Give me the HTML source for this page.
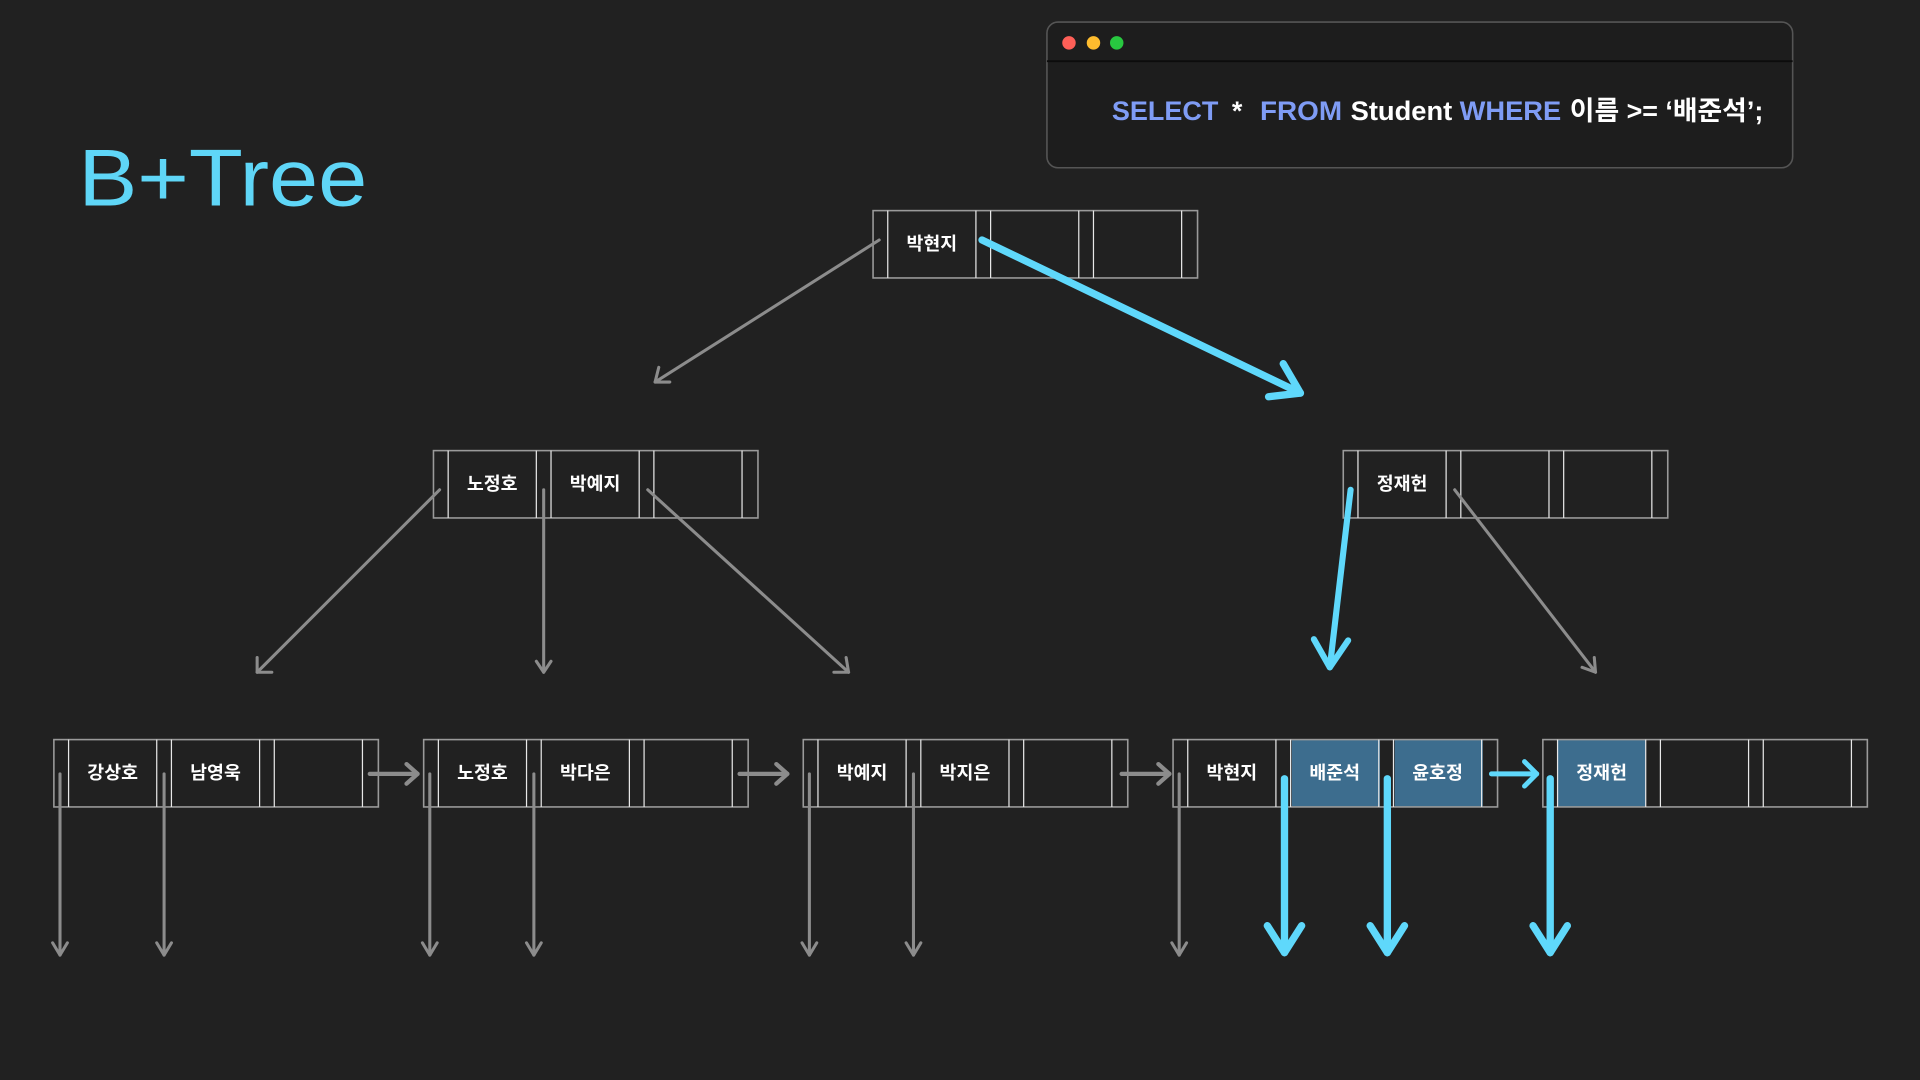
<!DOCTYPE html>
<html><head><meta charset="utf-8"><style>
html,body{margin:0;padding:0;background:#212121;width:1920px;height:1080px;overflow:hidden}
svg{display:block}
text{font-family:"Liberation Sans","Noto Sans CJK KR",sans-serif}
</style></head><body>
<svg width="1920" height="1080" viewBox="0 0 1568 882" xmlns="http://www.w3.org/2000/svg">
<defs>
<g id="node">
  <rect x="0" y="0" width="265" height="55" fill="none" stroke="#9a9a9a" stroke-width="1.3"/>
  <g stroke="#e8e8e8" stroke-width="1">
    <line x1="12" y1="0" x2="12" y2="55"/><line x1="84" y1="0" x2="84" y2="55"/>
    <line x1="96" y1="0" x2="96" y2="55"/><line x1="168" y1="0" x2="168" y2="55"/>
    <line x1="180" y1="0" x2="180" y2="55"/><line x1="252" y1="0" x2="252" y2="55"/>
  </g>
</g>
</defs>
<rect width="1568" height="882" fill="#212121"/>

<!-- window -->
<rect x="855" y="18" width="609" height="119" rx="9" fill="#1d1d1d" stroke="#555" stroke-width="1.3"/>
<line x1="855" y1="50" x2="1464" y2="50" stroke="#0c0c0c" stroke-width="1.5"/>
<circle cx="873" cy="35" r="5.5" fill="#fe5f57"/>
<circle cx="893" cy="35" r="5.5" fill="#febc2e"/>
<circle cx="912" cy="35" r="5.5" fill="#28c840"/>
<g font-size="22" font-weight="bold" fill="#fff">
<text x="908" y="98" fill="#7f9cf5" textLength="87" lengthAdjust="spacingAndGlyphs">SELECT</text>
<text x="1006" y="98">*</text>
<text x="1029" y="98" fill="#7f9cf5" textLength="67" lengthAdjust="spacingAndGlyphs">FROM</text>
<text x="1103" y="98" textLength="83" lengthAdjust="spacingAndGlyphs">Student</text>
<text x="1192" y="98" fill="#7f9cf5" textLength="83" lengthAdjust="spacingAndGlyphs">WHERE</text>
<text x="1282" y="98" textLength="158" lengthAdjust="spacingAndGlyphs">이름 &gt;= ‘배준석’;</text>
</g>

<!-- title -->
<text x="64" y="168" font-size="66" fill="#5fd6f7" textLength="236" lengthAdjust="spacingAndGlyphs">B+Tree</text>

<!-- highlighted cells -->
<rect x="1055" y="604" width="72" height="55" fill="#3d6d8e"/>
<rect x="1139" y="604" width="72" height="55" fill="#3d6d8e"/>
<rect x="1272" y="604" width="72" height="55" fill="#3d6d8e"/>

<!-- nodes -->
<use href="#node" x="713" y="172"/>
<use href="#node" x="354" y="368"/>
<use href="#node" x="1097" y="368"/>
<use href="#node" x="44" y="604"/>
<use href="#node" x="346" y="604"/>
<use href="#node" x="656" y="604"/>
<use href="#node" x="958" y="604"/>
<use href="#node" x="1260" y="604"/>

<g font-size="15" fill="#fff" text-anchor="middle" font-weight="bold">
<text x="761" y="204">박현지</text>
<text x="402" y="400">노정호</text>
<text x="486" y="400">박예지</text>
<text x="1145" y="400">정재헌</text>
<text x="92" y="636">강상호</text>
<text x="176" y="636">남영욱</text>
<text x="394" y="636">노정호</text>
<text x="478" y="636">박다은</text>
<text x="704" y="636">박예지</text>
<text x="788" y="636">박지은</text>
<text x="1006" y="636">박현지</text>
<text x="1090" y="636">배준석</text>
<text x="1174" y="636">윤호정</text>
<text x="1308" y="636">정재헌</text>
</g>

<!-- gray arrows -->
<g stroke="#8c8c8c" stroke-width="2.5" fill="none" stroke-linecap="round" stroke-linejoin="round">
<line x1="718" y1="196" x2="535" y2="312"/><polyline points="538,300 535,312 547,312"/>
<line x1="359" y1="400" x2="210" y2="549"/><polyline points="210,537 210,549 222,549"/>
<line x1="444" y1="400" x2="444" y2="549"/><polyline points="438,540 444,549 450,540"/>
<line x1="529" y1="400" x2="693" y2="549"/><polyline points="681,549 693,549 691,537"/>
<line x1="1188" y1="400" x2="1303" y2="549"/><polyline points="1292,545 1303,549 1302,537"/>
<g stroke-width="3.5">
<line x1="302" y1="632" x2="341" y2="632"/><polyline points="332,624 341,632 332,640"/>
<line x1="604" y1="632" x2="643" y2="632"/><polyline points="634,624 643,632 634,640"/>
<line x1="916" y1="632" x2="955" y2="632"/><polyline points="946,624 955,632 946,640"/>
</g>
<g>
<line x1="49" y1="632" x2="49" y2="780"/><polyline points="43,770 49,780 55,770"/>
<line x1="134" y1="632" x2="134" y2="780"/><polyline points="128,770 134,780 140,770"/>
<line x1="351" y1="632" x2="351" y2="780"/><polyline points="345,770 351,780 357,770"/>
<line x1="436" y1="632" x2="436" y2="780"/><polyline points="430,770 436,780 442,770"/>
<line x1="661" y1="632" x2="661" y2="780"/><polyline points="655,770 661,780 667,770"/>
<line x1="746" y1="632" x2="746" y2="780"/><polyline points="740,770 746,780 752,770"/>
<line x1="963" y1="632" x2="963" y2="780"/><polyline points="957,770 963,780 969,770"/>
</g>
</g>

<!-- cyan arrows -->
<g stroke="#5fd8fb" fill="none" stroke-linecap="round" stroke-linejoin="round">
<g stroke-width="6">
<line x1="802" y1="196" x2="1062" y2="321"/><polyline points="1048,297 1062,321 1036,324"/>
</g>
<g stroke-width="5">
<line x1="1103" y1="400" x2="1086" y2="545"/><polyline points="1073,522 1086,545 1101,523"/>
</g>
<g stroke-width="4">
<line x1="1218" y1="632" x2="1255" y2="632"/><polyline points="1245,622 1255,632 1245,642"/>
</g>
<g stroke-width="6">
<line x1="1049" y1="636" x2="1049" y2="778"/><polyline points="1035,756 1049,778 1063,756"/>
<line x1="1133" y1="636" x2="1133" y2="778"/><polyline points="1119,756 1133,778 1147,756"/>
<line x1="1266" y1="636" x2="1266" y2="778"/><polyline points="1252,756 1266,778 1280,756"/>
</g>
</g>
</svg>
</body></html>
